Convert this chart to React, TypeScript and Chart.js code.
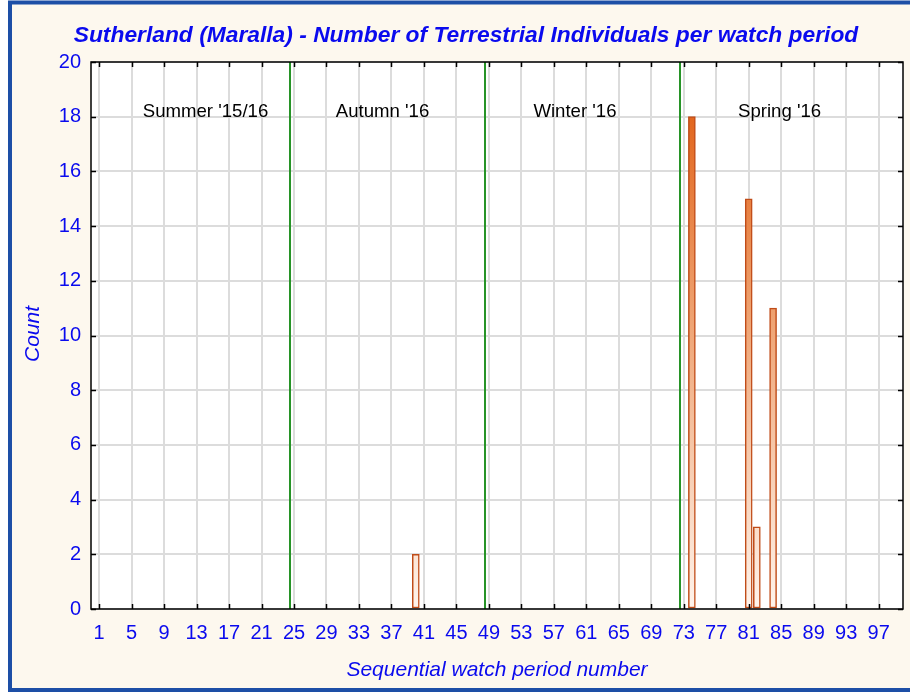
import React, { useEffect, useRef } from "react";
import { Chart, registerables } from "chart.js";

Chart.register(...registerables);

// ---- data ----
const periods = [40, 74, 81, 82, 84];
const counts = [2, 18, 15, 3, 11];
const xTickValues = [1, 5, 9, 13, 17, 21, 25, 29, 33, 37, 41, 45, 49, 53, 57, 61, 65, 69, 73, 77, 81, 85, 89, 93, 97];
const xMin = 0;
const xMax = 100;
const yMin = 0;
const yMax = 20;
const yStep = 2;
const seasonDividers = [24.5, 48.5, 72.5];
const seasonNames = ["Summer '15/16", "Autumn '16", "Winter '16", "Spring '16"];
const seasonLabelX = [14.1, 35.9, 59.6, 84.8];
const seasonLabelY = 18;
const titleText = "Sutherland (Maralla) - Number of Terrestrial Individuals per watch period";
const xTitleText = "Sequential watch period number";
const yTitleText = "Count";

const FONT = "'Liberation Sans', Arial, sans-serif";
const BLUE = "#0a0aee";

const decorPlugin = {
  id: "decor",
  beforeDraw(chart: any) {
    const { ctx, chartArea } = chart;
    ctx.save();
    ctx.fillStyle = "#ffffff";
    ctx.fillRect(0, 0, 910, 692);
    ctx.fillStyle = "#fdf8ee";
    ctx.fillRect(10, 2, 905, 688);
    ctx.strokeStyle = "#1d4fa6";
    ctx.lineWidth = 4;
    ctx.strokeRect(10, 2.5, 910, 687.5);
    ctx.fillStyle = "#ffffff";
    ctx.fillRect(chartArea.left, chartArea.top, chartArea.right - chartArea.left, chartArea.bottom - chartArea.top);
    ctx.restore();
  },
  beforeDatasetsDraw(chart: any) {
    const { ctx, chartArea, scales } = chart;
    const xs = scales.x;
    const ys = scales.y;
    ctx.save();
    ctx.strokeStyle = "#279327";
    ctx.lineWidth = 2;
    seasonDividers.forEach((v) => {
      const px = Math.round(xs.getPixelForValue(v));
      ctx.beginPath();
      ctx.moveTo(px, chartArea.top);
      ctx.lineTo(px, chartArea.bottom);
      ctx.stroke();
    });
    ctx.fillStyle = "#000000";
    ctx.font = `18.6px ${FONT}`;
    ctx.textAlign = "center";
    ctx.textBaseline = "alphabetic";
    seasonNames.forEach((name, i) => {
      ctx.fillText(name, xs.getPixelForValue(seasonLabelX[i]), ys.getPixelForValue(seasonLabelY));
    });
    ctx.restore();
  },
  afterDraw(chart: any) {
    const { ctx, chartArea, scales } = chart;
    const xs = scales.x;
    const ys = scales.y;
    ctx.save();
    // plot frame
    ctx.strokeStyle = "#000000";
    ctx.lineWidth = 1.5;
    ctx.strokeRect(chartArea.left, chartArea.top, chartArea.right - chartArea.left, chartArea.bottom - chartArea.top);
    // inner tick marks
    const tl = 5;
    ctx.beginPath();
    xs.ticks.forEach((t: any) => {
      const px = Math.round(xs.getPixelForValue(t.value)) + 0.5;
      ctx.moveTo(px, chartArea.bottom);
      ctx.lineTo(px, chartArea.bottom - tl);
      ctx.moveTo(px, chartArea.top);
      ctx.lineTo(px, chartArea.top + tl);
    });
    ys.ticks.forEach((t: any) => {
      const py = Math.round(ys.getPixelForValue(t.value)) + 0.5;
      ctx.moveTo(chartArea.left, py);
      ctx.lineTo(chartArea.left + tl, py);
      ctx.moveTo(chartArea.right, py);
      ctx.lineTo(chartArea.right - tl, py);
    });
    ctx.stroke();
    // titles
    ctx.fillStyle = BLUE;
    ctx.textAlign = "center";
    ctx.textBaseline = "alphabetic";
    ctx.font = `italic bold 22.8px ${FONT}`;
    ctx.fillText(titleText, 466, 42);
    ctx.font = `italic 21px ${FONT}`;
    ctx.fillText(xTitleText, 497, 676);
    ctx.translate(33, 334);
    ctx.rotate(-Math.PI / 2);
    ctx.textBaseline = "middle";
    ctx.fillText(yTitleText, 0, 0);
    ctx.restore();
  },
};

export default function App() {
  const ref = useRef<HTMLCanvasElement | null>(null);
  useEffect(() => {
    if (!ref.current) return;
    const chart = new Chart(ref.current, {
      type: "bar",
      data: {
        datasets: [
          {
            data: periods.map((p, i) => ({ x: p, y: counts[i] })),
            barThickness: 7,
            borderWidth: 1.5,
            borderSkipped: false,
            borderColor: "#c04c18",
            backgroundColor: (c: any) => {
              const chart = c.chart;
              const area = chart.chartArea;
              if (!area) return "#f0a070";
              const g = chart.ctx.createLinearGradient(0, area.bottom, 0, area.top);
              g.addColorStop(0, "#fff4ec");
              g.addColorStop(0.55, "#eea06e");
              g.addColorStop(0.9, "#e2661e");
              g.addColorStop(1, "#db5a12");
              return g;
            },
          },
        ],
      },
      options: {
        responsive: false,
        animation: false,
        devicePixelRatio: 1,
        layout: { padding: { left: 0, top: 62, right: 7, bottom: 0 } },
        plugins: { legend: { display: false }, title: { display: false }, tooltip: { enabled: false } },
        scales: {
          x: {
            type: "linear",
            min: xMin,
            max: xMax,
            offset: false,
            afterBuildTicks: (s: any) => {
              s.ticks = xTickValues.map((v) => ({ value: v }));
            },
            afterFit: (s: any) => {
              s.height = 83;
            },
            grid: { offset: false, color: "#dcdcdc", lineWidth: 2, drawTicks: false },
            border: { display: false },
            ticks: {
              autoSkip: false,
              maxRotation: 0,
              padding: 12,
              color: BLUE,
              font: { family: FONT, size: 20 },
            },
          },
          y: {
            type: "linear",
            min: yMin,
            max: yMax,
            afterFit: (s: any) => {
              s.width = 91;
            },
            grid: { color: "#dcdcdc", lineWidth: 2, drawTicks: false },
            border: { display: false },
            ticks: {
              stepSize: yStep,
              padding: 10,
              color: BLUE,
              font: { family: FONT, size: 20 },
            },
          },
        },
      },
      plugins: [decorPlugin],
    } as any);
    return () => chart.destroy();
  }, []);
  return (
    <div style={{ position: "absolute", left: 0, top: 0, width: 910, height: 692 }}>
      <canvas ref={ref} width={910} height={692} style={{ display: "block" }} />
    </div>
  );
}
